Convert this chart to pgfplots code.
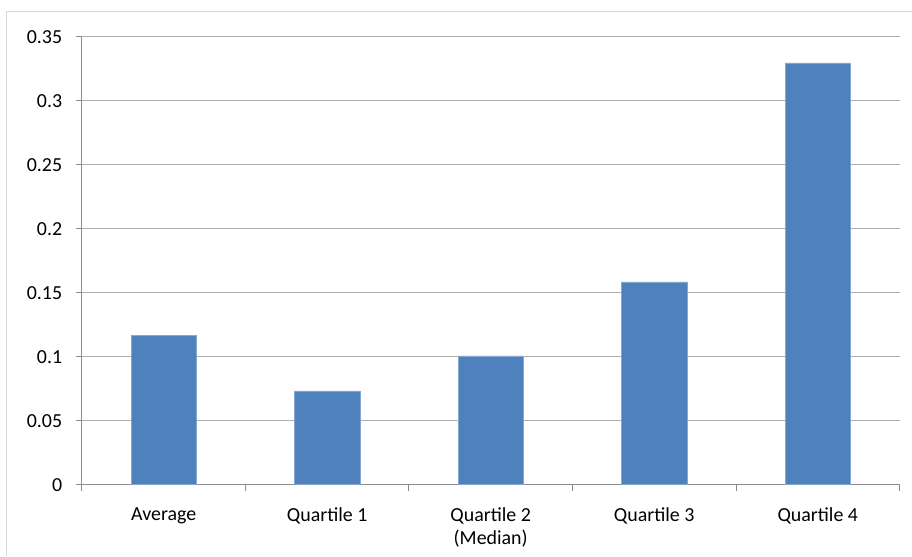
\documentclass[border=0pt]{standalone}
\usepackage{pgfplots}
\pgfplotsset{compat=1.18}
\usepackage{fontspec}
\setmainfont{Carlito}
\definecolor{barblue}{HTML}{4F81BD}
\definecolor{gridgray}{HTML}{ADADAD}
\definecolor{axisgray}{HTML}{8C8C8C}
\definecolor{framegray}{HTML}{D9D9D9}
\begin{document}
\fontsize{20}{23.5}\selectfont
\begin{tikzpicture}[x=1bp,y=1bp]
\fill[white] (0,0) rectangle (912,556);
\draw[framegray, line width=1bp] (7,0) -- (7,544) -- (912,544);
\begin{axis}[
  at={(82bp,71bp)}, anchor=south west,
  scale only axis, width=818bp, height=448bp,
  xmin=-0.5, xmax=4.5, ymin=0, ymax=0.35,
  axis x line*=bottom, axis y line*=left,
  axis line style={draw=axisgray, line width=1bp, -},
  xtick={0,1,2,3,4},
  xticklabels={Average, Quartile 1, {Quartile 2\\(Median)}, Quartile 3, Quartile 4},
  xticklabel style={align=center, font=\fontsize{20}{23.5}\selectfont, yshift=-10bp},
  x tick style={draw=none},
  minor xtick={-0.5,0.5,1.5,2.5,3.5,4.5},
  minor x tick style={draw=axisgray, line width=1bp},
  minor tick length=6bp,
  major tick length=6bp,
  tick align=outside,
  ytick={0,0.05,0.1,0.15,0.2,0.25,0.3,0.35},
  yticklabel style={/pgf/number format/fixed, /pgf/number format/precision=2, font=\fontsize{20}{23.5}\selectfont, xshift=-7bp},
  /pgf/number format/assume math mode=true,
  y tick style={draw=axisgray, line width=1bp},
  ymajorgrids, grid style={draw=gridgray, line width=1bp},
  ybar, bar width=0.4,
  clip=false,
]
\addplot[fill=barblue, draw=barblue!70!white, line width=0.5bp] coordinates {
  (0,0.117) (1,0.0734) (2,0.1008) (3,0.1586) (4,0.3297)
};
\end{axis}
\end{tikzpicture}
\end{document}
